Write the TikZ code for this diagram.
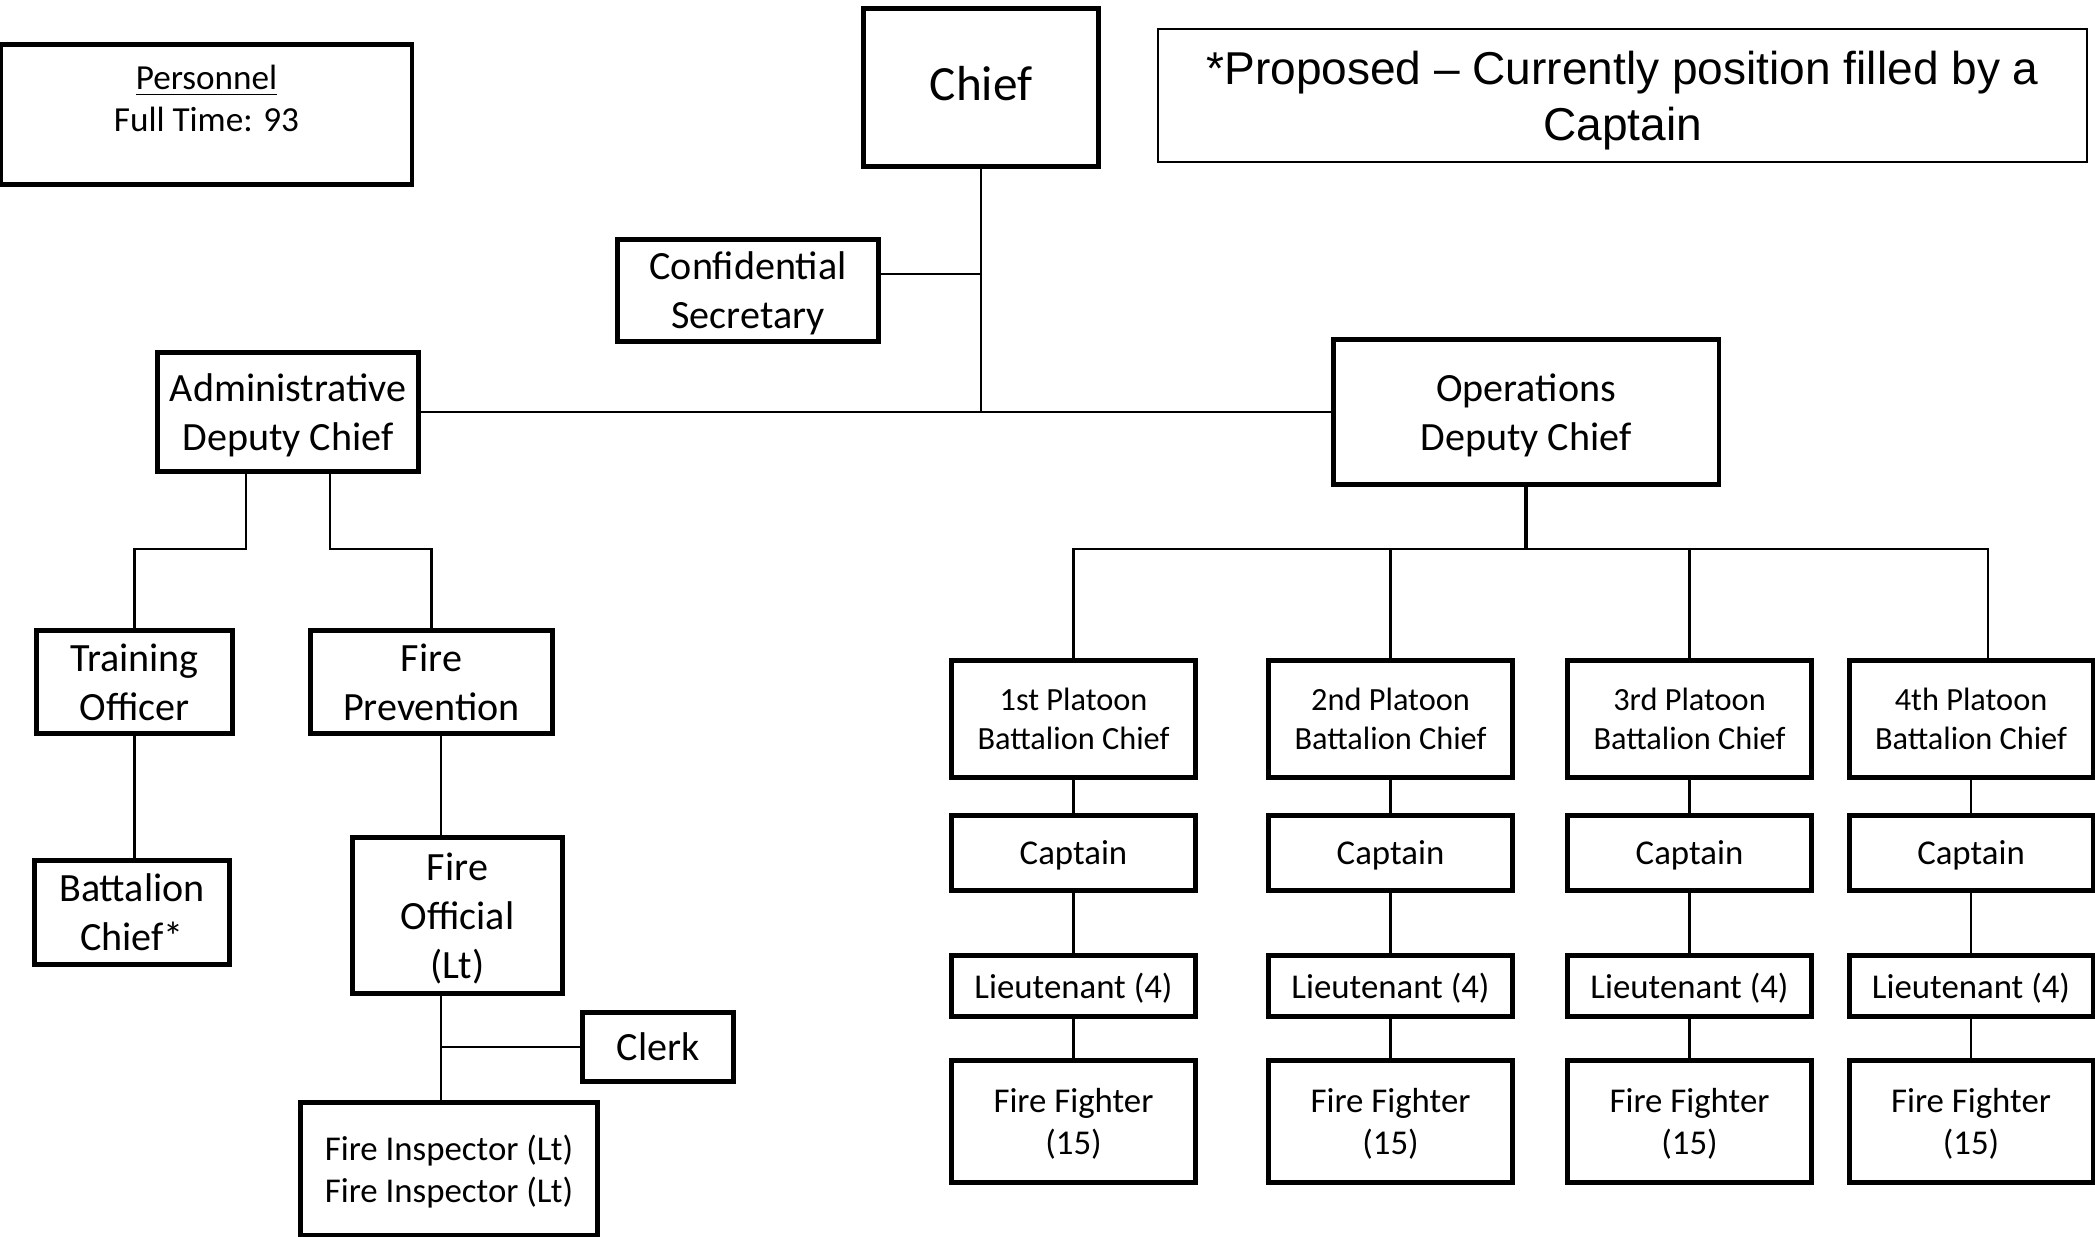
\documentclass[tikz,border=0pt]{standalone}
\usepackage{fontspec}
\setmainfont{Carlito}
\newfontfamily\notefont{Liberation Sans}
\usetikzlibrary{positioning,calc}

\begin{document}
\begin{tikzpicture}[x=0.01cm,y=-0.01cm,
  box/.style={draw,line width=1.2pt,align=center,inner sep=0pt,text depth=0pt},
  big/.style={font=\fontsize{11.4pt}{13.9pt}\selectfont},
  mid/.style={font=\fontsize{9.9pt}{11.9pt}\selectfont},
  small/.style={font=\fontsize{9.2pt}{11pt}\selectfont},
  link/.style={line width=0.65pt}]
\useasboundingbox (0,0) rectangle (2095,1237);

% top row
\node [box,minimum width=4.1cm,minimum height=1.40cm] (pers) at (206.5,114.5) {};
\node [anchor=north,align=center,inner sep=0pt,font=\fontsize{10pt}{12pt}\selectfont] (perstext) at (206.5,64) {\underline{Personnel}\\Full Time: 93};
\node [box,minimum width=2.35cm,minimum height=1.58cm,text depth=0.08cm,font=\fontsize{14pt}{17pt}\selectfont] (chief) at (981,87.5) {Chief};
\node [draw,line width=0.6pt,align=center,minimum width=9.29cm,minimum height=1.33cm,inner sep=0pt,text depth=0pt,font=\notefont\fontsize{13.1pt}{15.9pt}\selectfont] (note) at (1622.5,95.5) {*Proposed – Currently position filled by a\\Captain};
\node [box,big,minimum width=2.61cm,minimum height=1.02cm] (secr) at (748,290.5) {Confidential\\Secretary};
\node [box,big,minimum width=2.61cm,minimum height=1.19cm] (admin) at (288,412) {Administrative\\Deputy Chief};
\node [box,big,minimum width=3.85cm,minimum height=1.45cm] (ops) at (1526,412) {Operations\\Deputy Chief};

% administrative side
\node [box,big,minimum width=1.96cm,minimum height=1.03cm] (train) at (134.5,682) {Training\\Officer};
\node [box,big,minimum width=1.95cm,minimum height=1.04cm] (bchief) at (132,912.5) {Battalion\\Chief*};
\node [box,big,minimum width=2.42cm,minimum height=1.03cm] (prev) at (431.5,682) {Fire\\Prevention};
\node [box,big,minimum width=2.10cm,minimum height=1.56cm] (official) at (457.5,915.5) {Fire\\Official\\(Lt)};
\node [box,big,minimum width=1.51cm,minimum height=0.69cm] (clerk) at (658,1047) {Clerk};
\node [box,mid,minimum width=2.97cm,minimum height=1.33cm] (insp) at (449,1169) {Fire Inspector (Lt)\\Fire Inspector (Lt)};

% platoons
\node [box,small,minimum width=2.44cm,minimum height=1.17cm] (bc1) at (1073.5,719) {1st Platoon\\Battalion Chief};
\node [box,small,minimum width=2.44cm,minimum height=1.17cm] (bc2) at (1390.5,719) {2nd Platoon\\Battalion Chief};
\node [box,small,minimum width=2.44cm,minimum height=1.17cm] (bc3) at (1689.5,719) {3rd Platoon\\Battalion Chief};
\node [box,small,minimum width=2.43cm,minimum height=1.17cm] (bc4) at (1971,719) {4th Platoon\\Battalion Chief};
\node [box,mid,minimum width=2.44cm,minimum height=0.75cm] (cap1) at (1073.5,853) {Captain};
\node [box,mid,minimum width=2.44cm,minimum height=0.75cm] (cap2) at (1390.5,853) {Captain};
\node [box,mid,minimum width=2.44cm,minimum height=0.75cm] (cap3) at (1689.5,853) {Captain};
\node [box,mid,minimum width=2.43cm,minimum height=0.75cm] (cap4) at (1971,853) {Captain};
\node [box,mid,minimum width=2.44cm,minimum height=0.61cm] (lt1) at (1073.5,986) {Lieutenant (4)};
\node [box,mid,minimum width=2.44cm,minimum height=0.61cm] (lt2) at (1390.5,986) {Lieutenant (4)};
\node [box,mid,minimum width=2.44cm,minimum height=0.61cm] (lt3) at (1689.5,986) {Lieutenant (4)};
\node [box,mid,minimum width=2.43cm,minimum height=0.61cm] (lt4) at (1971,986) {Lieutenant (4)};
\node [box,mid,minimum width=2.44cm,minimum height=1.22cm] (ff1) at (1073.5,1121.5) {Fire Fighter\\(15)};
\node [box,mid,minimum width=2.44cm,minimum height=1.22cm] (ff2) at (1390.5,1121.5) {Fire Fighter\\(15)};
\node [box,mid,minimum width=2.44cm,minimum height=1.22cm] (ff3) at (1689.5,1121.5) {Fire Fighter\\(15)};
\node [box,mid,minimum width=2.43cm,minimum height=1.22cm] (ff4) at (1971,1121.5) {Fire Fighter\\(15)};

% joints
\coordinate (sjoin) at (981,274);
\coordinate (ta) at (246,549);
\coordinate (pa) at (330,549);
\coordinate (fline) at (441,1047);
\coordinate (bend) at (1988,549);

% connectors
\draw [link] (chief) -- (chief |- admin);
\draw [link] (admin) -- (ops);
\draw [link] (secr.east |- sjoin) -- (sjoin);
\draw [link] (admin.south -| ta) -- (ta) -| (train);
\draw [link] (admin.south -| pa) -- (pa) -| (prev);
\draw [link] (train.south) -- (train.south |- bchief.north);
\draw [link] (prev.south -| fline) -- (official.north -| fline);
\draw [link] (official.south -| fline) -- (insp.north -| fline);
\draw [link] (fline) -- (clerk);
\draw [line width=1.2pt] (ops) -- (ops |- bend);
\draw [link] (bc1) -- (bc1 |- bend) -- (bend) -- (bend |- bc4.north);
\draw [link] (bc2) -- (bc2 |- bend);
\draw [link] (bc3) -- (bc3 |- bend);
\draw [link] (bc1) -- (cap1) -- (lt1) -- (ff1);
\draw [link] (bc2) -- (cap2) -- (lt2) -- (ff2);
\draw [link] (bc3) -- (cap3) -- (lt3) -- (ff3);
\draw [link] (bc4) -- (cap4) -- (lt4) -- (ff4);
\end{tikzpicture}
\end{document}
